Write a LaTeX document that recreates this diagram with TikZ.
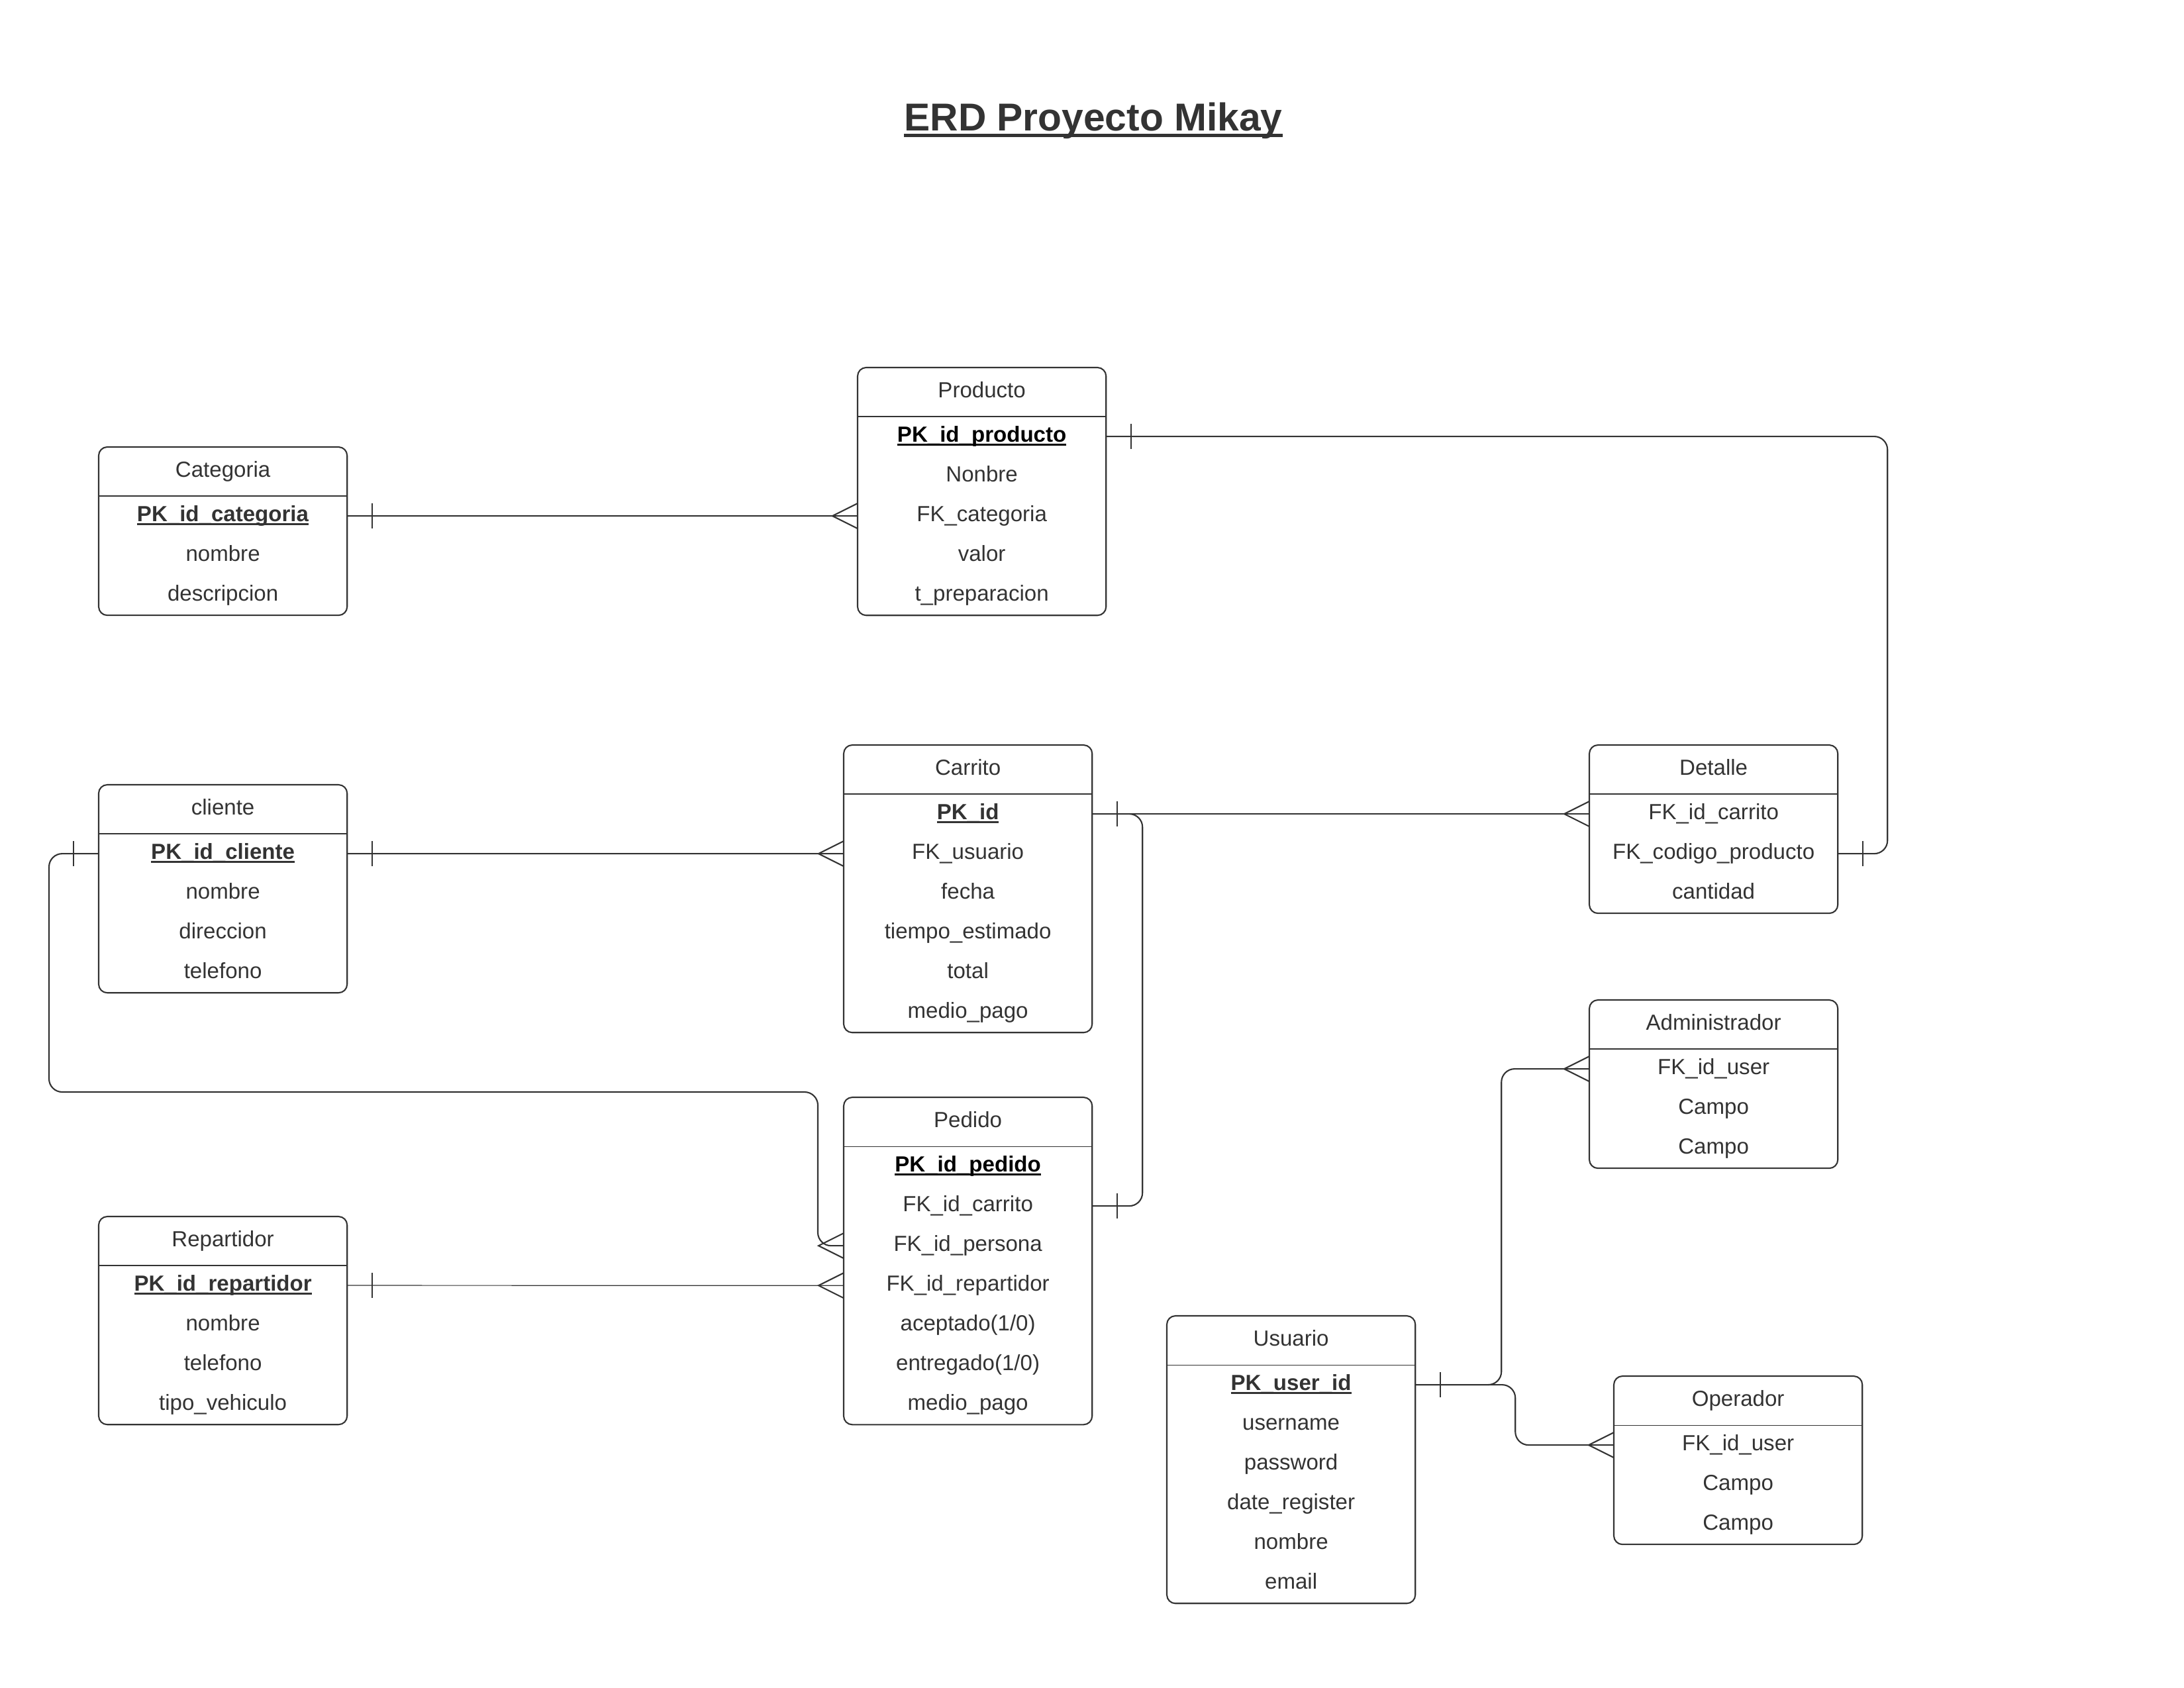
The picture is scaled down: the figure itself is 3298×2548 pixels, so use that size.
\documentclass[tikz,border=0pt]{standalone}
\usepackage{fontspec}
\setmainfont{Liberation Sans}
\usetikzlibrary{positioning}
\definecolor{ink}{HTML}{333333}
\newcommand{\pkline}[1]{\setbox0\hbox{#1}\rlap{\rule[-0.17em]{\wd0}{0.09em}}\box0}

\begin{document}
\begin{tikzpicture}[x=0.01cm, y=-0.01cm]
        \tikzstyle{every node}=[inner sep=0pt, outer sep=0pt, font=\fontsize{9.4}{11}\selectfont, text=ink]
        \tikzstyle{box}=[draw=ink, line width=0.6pt, rounded corners=0.13cm, minimum width=3.75cm, anchor=north west]
        \tikzstyle{head}=[minimum width=3.75cm, minimum height=0.74cm, text height=0.75em, text depth=0.27em, anchor=north west]
        \tikzstyle{row}=[minimum width=3.75cm, minimum height=0.6cm, text height=0.75em, text depth=0.27em]
        \tikzstyle{sep}=[draw=ink, line width=0.6pt]
        \tikzstyle{edge}=[draw=ink, line width=0.6pt, rounded corners=0.2cm]
        \tikzset{bar/.pic={\draw[ink, line width=0.6pt] (38,-19) -- (38,19);},
                 crow/.pic={\draw[ink, line width=0.6pt] (0,-19) -- (38,0) -- (0,19);}}

        \useasboundingbox (0,0) rectangle (3298,2548);

        \node[font=\fontsize{16.7}{20}\selectfont\bfseries] (ttl) at (1651,182) {\pkline{ERD Proyecto Mikay}};

        \node[box, minimum height=2.54cm] (cat) at (149,675) {};
        \node[head] (cat-t) at (149,675) {Categoria};
        \node[row, below=0pt of cat-t] (cat-1) {\pkline{\textbf{PK\_id\_categoria}}};
        \node[row, below=0pt of cat-1] (cat-2) {nombre};
        \node[row, below=0pt of cat-2] (cat-3) {descripcion};
        \draw[sep] (cat-t.south west) -- (cat-t.south east);

        \node[box, minimum height=3.74cm] (prod) at (1295,555) {};
        \node[head] (prod-t) at (1295,555) {Producto};
        \node[row, below=0pt of prod-t, text=black] (prod-1) {\pkline{\textbf{PK\_id\_producto}}};
        \node[row, below=0pt of prod-1] (prod-2) {Nonbre};
        \node[row, below=0pt of prod-2] (prod-3) {FK\_categoria};
        \node[row, below=0pt of prod-3] (prod-4) {valor};
        \node[row, below=0pt of prod-4] (prod-5) {t\_preparacion};
        \draw[sep] (prod-t.south west) -- (prod-t.south east);

        \node[box, minimum height=4.34cm] (car) at (1274,1125) {};
        \node[head] (car-t) at (1274,1125) {Carrito};
        \node[row, below=0pt of car-t] (car-1) {\pkline{\textbf{PK\_id}}};
        \node[row, below=0pt of car-1] (car-2) {FK\_usuario};
        \node[row, below=0pt of car-2] (car-3) {fecha};
        \node[row, below=0pt of car-3] (car-4) {tiempo\_estimado};
        \node[row, below=0pt of car-4] (car-5) {total};
        \node[row, below=0pt of car-5] (car-6) {medio\_pago};
        \draw[sep] (car-t.south west) -- (car-t.south east);

        \node[box, minimum height=2.54cm] (det) at (2400,1125) {};
        \node[head] (det-t) at (2400,1125) {Detalle};
        \node[row, below=0pt of det-t] (det-1) {FK\_id\_carrito};
        \node[row, below=0pt of det-1] (det-2) {FK\_codigo\_producto};
        \node[row, below=0pt of det-2] (det-3) {cantidad};
        \draw[sep] (det-t.south west) -- (det-t.south east);

        \node[box, minimum height=3.14cm] (cli) at (149,1185) {};
        \node[head] (cli-t) at (149,1185) {cliente};
        \node[row, below=0pt of cli-t] (cli-1) {\pkline{\textbf{PK\_id\_cliente}}};
        \node[row, below=0pt of cli-1] (cli-2) {nombre};
        \node[row, below=0pt of cli-2] (cli-3) {direccion};
        \node[row, below=0pt of cli-3] (cli-4) {telefono};
        \draw[sep] (cli-t.south west) -- (cli-t.south east);

        \node[box, minimum height=4.94cm] (ped) at (1274,1657) {};
        \node[head] (ped-t) at (1274,1657) {Pedido};
        \node[row, below=0pt of ped-t, text=black] (ped-1) {\pkline{\textbf{PK\_id\_pedido}}};
        \node[row, below=0pt of ped-1] (ped-2) {FK\_id\_carrito};
        \node[row, below=0pt of ped-2] (ped-3) {FK\_id\_persona};
        \node[row, below=0pt of ped-3] (ped-4) {FK\_id\_repartidor};
        \node[row, below=0pt of ped-4] (ped-5) {aceptado(1/0)};
        \node[row, below=0pt of ped-5] (ped-6) {entregado(1/0)};
        \node[row, below=0pt of ped-6] (ped-7) {medio\_pago};
        \draw[sep, line width=0.3pt] (ped-t.south west) -- (ped-t.south east);

        \node[box, minimum height=3.14cm] (rep) at (149,1837) {};
        \node[head] (rep-t) at (149,1837) {Repartidor};
        \node[row, below=0pt of rep-t] (rep-1) {\pkline{\textbf{PK\_id\_repartidor}}};
        \node[row, below=0pt of rep-1] (rep-2) {nombre};
        \node[row, below=0pt of rep-2] (rep-3) {telefono};
        \node[row, below=0pt of rep-3] (rep-4) {tipo\_vehiculo};
        \draw[sep] (rep-t.south west) -- (rep-t.south east);

        \node[box, minimum height=2.54cm] (adm) at (2400,1510) {};
        \node[head] (adm-t) at (2400,1510) {Administrador};
        \node[row, below=0pt of adm-t] (adm-1) {FK\_id\_user};
        \node[row, below=0pt of adm-1] (adm-2) {Campo};
        \node[row, below=0pt of adm-2] (adm-3) {Campo};
        \draw[sep] (adm-t.south west) -- (adm-t.south east);

        \node[box, minimum height=4.34cm] (usu) at (1762,1987) {};
        \node[head] (usu-t) at (1762,1987) {Usuario};
        \node[row, below=0pt of usu-t] (usu-1) {\pkline{\textbf{PK\_user\_id}}};
        \node[row, below=0pt of usu-1] (usu-2) {username};
        \node[row, below=0pt of usu-2] (usu-3) {password};
        \node[row, below=0pt of usu-3] (usu-4) {date\_register};
        \node[row, below=0pt of usu-4] (usu-5) {nombre};
        \node[row, below=0pt of usu-5] (usu-6) {email};
        \draw[sep, line width=0.3pt] (usu-t.south west) -- (usu-t.south east);

        \node[box, minimum height=2.54cm] (ope) at (2437,2078) {};
        \node[head] (ope-t) at (2437,2078) {Operador};
        \node[row, below=0pt of ope-t] (ope-1) {FK\_id\_user};
        \node[row, below=0pt of ope-1] (ope-2) {Campo};
        \node[row, below=0pt of ope-2] (ope-3) {Campo};
        \draw[sep, line width=0.3pt] (ope-t.south west) -- (ope-t.south east);

        \draw[edge] (cat-1.east) -- (prod-3.west);
        \draw[edge] (prod-1.east) -- ++(1180,0) |- (det-2.east);
        \draw[edge] (car-1.east) -- (det-1.west);
        \draw[edge] (car-1.east) -- ++(76,0) |- (ped-2.east);
        \draw[edge] (cli-1.east) -- (car-2.west);
        \draw[edge] (cli-1.west) -- ++(-75,0) |- (1235,1649) |- (ped-3.west);
        \draw[edge, line width=0.35pt] (rep-1.east) -- (ped-4.west);
        \draw[edge] (usu-1.east) -- ++(130,0) |- (adm-1.west);
        \draw[edge] (usu-1.east) -- ++(151,0) |- (ope-1.west);

        \pic at (cat-1.east) {bar};
        \pic[xscale=-1] at (prod-3.west) {crow};
        \pic at (prod-1.east) {bar};
        \pic at (det-2.east) {bar};
        \pic at (car-1.east) {bar};
        \pic[xscale=-1] at (det-1.west) {crow};
        \pic at (ped-2.east) {bar};
        \pic at (cli-1.east) {bar};
        \pic[xscale=-1] at (car-2.west) {crow};
        \pic[xscale=-1] at (cli-1.west) {bar};
        \pic[xscale=-1] at (ped-3.west) {crow};
        \pic at (rep-1.east) {bar};
        \pic[xscale=-1] at (ped-4.west) {crow};
        \pic at (usu-1.east) {bar};
        \pic[xscale=-1] at (adm-1.west) {crow};
        \pic[xscale=-1] at (ope-1.west) {crow};
\end{tikzpicture}
\end{document}
